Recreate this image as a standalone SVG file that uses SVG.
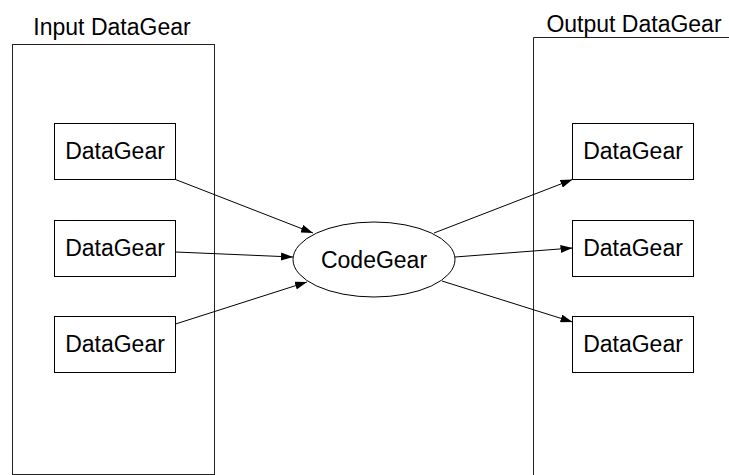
<svg xmlns="http://www.w3.org/2000/svg" width="729" height="475" viewBox="0 0 729 475">
<style>
.box{fill:#fff;stroke:#000;stroke-width:1}
.cont{fill:none;stroke:#222;stroke-width:1}
.t{font-family:"Liberation Sans",Arial,sans-serif;font-size:23px;fill:#000;text-anchor:middle}
.c{stroke:#000;stroke-width:1;fill:none;marker-end:url(#ah)}
</style>
<defs>
<marker id="ah" viewBox="0 0 12 8" refX="12" refY="4" markerWidth="12" markerHeight="8" markerUnits="userSpaceOnUse" orient="auto">
<path d="M0,0 L12,4 L0,8 z" fill="#000"/>
</marker>
</defs>
<rect width="729" height="475" fill="#fff"/>
<g id="input-container">
<rect class="cont" x="12.5" y="44.5" width="202" height="430"/>
<text class="t" x="112" y="35">Input DataGear</text>
</g>
<g id="output-container">
<path class="cont" d="M533.5,475 V37.5 H730"/>
<text class="t" x="634" y="32">Output DataGear</text>
</g>
<g id="in1"><rect class="box" x="54.5" y="123.5" width="121" height="56"/><text class="t" x="115" y="159">DataGear</text></g>
<g id="in2"><rect class="box" x="54.5" y="220.5" width="121" height="56"/><text class="t" x="115" y="256">DataGear</text></g>
<g id="in3"><rect class="box" x="54.5" y="316.5" width="121" height="56"/><text class="t" x="115" y="352">DataGear</text></g>
<g id="codegear"><ellipse class="box" cx="374" cy="259.5" rx="81" ry="37.5"/><text class="t" x="374" y="268">CodeGear</text></g>
<g id="out1"><rect class="box" x="572.5" y="123.5" width="121" height="56"/><text class="t" x="633" y="159">DataGear</text></g>
<g id="out2"><rect class="box" x="572.5" y="220.5" width="121" height="56"/><text class="t" x="633" y="256">DataGear</text></g>
<g id="out3"><rect class="box" x="572.5" y="316.5" width="121" height="56"/><text class="t" x="633" y="352">DataGear</text></g>
<g id="connectors">
<line class="c" x1="175.5" y1="179.5" x2="313" y2="233"/>
<line class="c" x1="175.5" y1="252" x2="293" y2="257"/>
<line class="c" x1="175.5" y1="324" x2="307" y2="282"/>
<line class="c" x1="434" y1="233" x2="572.5" y2="179.5"/>
<line class="c" x1="455" y1="257" x2="572.5" y2="248"/>
<line class="c" x1="442" y1="281" x2="572.5" y2="322"/>
</g>
</svg>
